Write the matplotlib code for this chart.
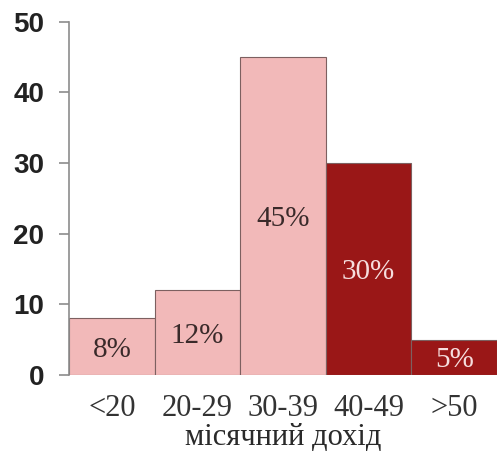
import matplotlib.pyplot as plt
import numpy as np

# income groups and share of respondents (%)
categories = ["<20", "20-29", "30-39", "40-49", ">50"]
values = [8, 12, 45, 30, 5]
labels = ["8%", "12%", "45%", "30%", "5%"]
light = [True, True, True, False, False]

pink = "#f2b9b9"
dark = "#9a1717"

fig = plt.figure(figsize=(4.98, 4.55), dpi=100)
ax = fig.add_axes([0.139, 0.176, 0.859, 0.776])

x = np.arange(len(categories))
colors = [pink if l else dark for l in light]
bars = ax.bar(x, values, width=1.0, color=colors, edgecolor="#7d6060", linewidth=0.8)

# percentage labels inside the bars
for b, lab, l in zip(bars, labels, light):
    ax.text(b.get_x() + b.get_width() / 2, b.get_height() / 2, lab,
            ha="center", va="center_baseline", fontsize=21,
            family="Liberation Serif",
            color="#3a2a2a" if l else "#f6dede")

ax.set_xlim(-0.5, len(categories) - 0.5)
ax.set_ylim(0, 50)
ax.set_yticks([0, 10, 20, 30, 40, 50])
ax.set_xticks(x)
ax.set_xticklabels(categories, family="Liberation Serif", fontsize=22, color="#333333")
ax.set_xlabel("місячний дохід", family="Liberation Serif", fontsize=22,
              color="#2a2a2a", labelpad=0)

for s in ["top", "right", "bottom"]:
    ax.spines[s].set_visible(False)
ax.spines["left"].set_color("#8c8c8c")
ax.spines["left"].set_linewidth(1.2)

ax.tick_params(axis="y", length=7, width=1.2, color="#8c8c8c", pad=11,
               labelsize=20)
for t in ax.get_yticklabels():
    t.set_fontweight("bold")
    t.set_family("Liberation Sans")
    t.set_color("#222222")
ax.tick_params(axis="x", length=0, pad=14)

fig.savefig("out.png", dpi=100)
